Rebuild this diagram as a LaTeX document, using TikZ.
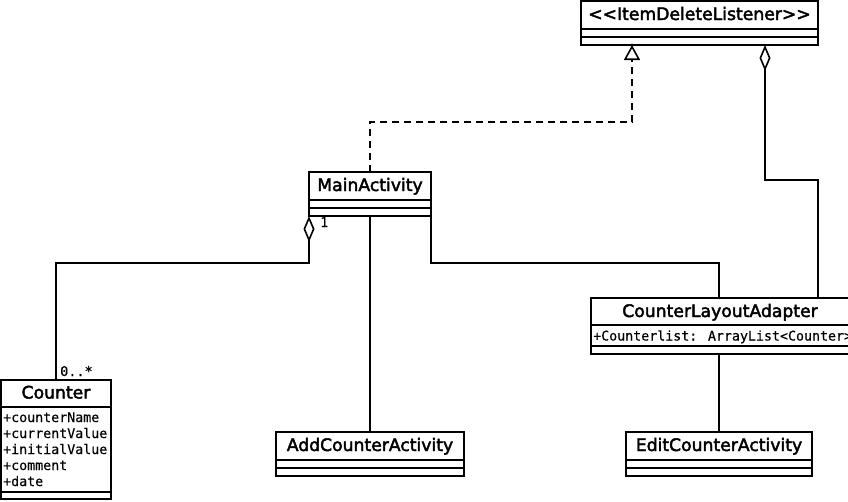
\documentclass[tikz,border=0pt]{standalone}
\usepackage{fontspec}
\setmainfont{DejaVu Sans}[Ligatures=TeXOff]
\newfontfamily\titlef{DejaVu Sans}[Ligatures=TeXOff, FakeBold=2.5]
\newfontfamily\monof{DejaVu Sans Mono}[Ligatures=TeXOff, FakeBold=0.4]
\usetikzlibrary{arrows.meta,calc}
\begin{document}
\begin{tikzpicture}[x=1pt,y=-1pt,
  cls/.style={draw, line width=1.8pt, rectangle, inner sep=0pt, outer sep=0pt, anchor=north west},
  sepline/.style={line width=1.8pt},
  ttl/.style={font=\fontsize{17.2}{18}\titlef, anchor=base, inner sep=0pt},
  attr/.style={font=\fontsize{13.3}{14}\monof, anchor=base west, inner sep=0pt},
  mult/.style={font=\fontsize{13.5}{14}\monof, inner sep=0pt},
  conn/.style={line width=1.8pt},
  realize/.style={conn, dash pattern=on 7pt off 5pt, -{Triangle[open,length=15pt,width=16pt,line width=1.6pt]}},
  aggr/.style={conn, {Diamond[open,length=26pt,width=11pt,line width=1.6pt]}-},
  ]
\useasboundingbox[fill=white] (0,0) rectangle (848,501);

% classes
\node[cls, minimum width=237pt, minimum height=44pt] (idl) at (581,1) {};
\draw[sepline] ($(idl.north west)+(0,28)$) -- ++(237,0);
\draw[sepline] ($(idl.north west)+(0,36)$) -- ++(237,0);
\node[ttl] at ($(idl.north)+(0,19)$) {<<ItemDeleteListener>>};

\node[cls, minimum width=122pt, minimum height=44pt] (ma) at (309,172) {};
\draw[sepline] ($(ma.north west)+(0,28)$) -- ++(122,0);
\draw[sepline] ($(ma.north west)+(0,36)$) -- ++(122,0);
\node[ttl] at ($(ma.north)+(0,19)$) {MainActivity};

\node[cls, minimum width=110pt, minimum height=119pt] (counter) at (1,380) {};
\draw[sepline] ($(counter.north west)+(0,27)$) -- ++(110,0);
\draw[sepline] ($(counter.north west)+(0,112)$) -- ++(110,0);
\node[ttl] at ($(counter.north)+(0,18.5)$) {Counter};
\node[attr] at (3,422) {+counterName};
\node[attr] at (3,438) {+currentValue};
\node[attr] at (3,454) {+initialValue};
\node[attr] at (3,470) {+comment};
\node[attr] at (3,486) {+date};

\node[cls, minimum width=258pt, minimum height=56pt] (cla) at (591,298) {};
\draw[sepline] ($(cla.north west)+(0,27)$) -- ++(258,0);
\draw[sepline] ($(cla.north west)+(0,48)$) -- ++(258,0);
\node[ttl] at ($(cla.north)+(0,19)$) {CounterLayoutAdapter};
\node[attr] at (593,340.5) {+Counterlist: ArrayList<Counter>};

\node[cls, minimum width=188pt, minimum height=44pt] (add) at (276,432) {};
\draw[sepline] ($(add.north west)+(0,28)$) -- ++(188,0);
\draw[sepline] ($(add.north west)+(0,36)$) -- ++(188,0);
\node[ttl] at ($(add.north)+(0,19)$) {AddCounterActivity};

\node[cls, minimum width=186pt, minimum height=44pt] (edit) at (626,432) {};
\draw[sepline] ($(edit.north west)+(0,28)$) -- ++(186,0);
\draw[sepline] ($(edit.north west)+(0,36)$) -- ++(186,0);
\node[ttl] at ($(edit.north)+(0,19)$) {EditCounterActivity};

% helper coordinates
\coordinate (r1) at (632,122);
\coordinate (g1) at (765,0);
\coordinate (g2) at (818,180);
\coordinate (h1) at (0,263);
\coordinate (v1) at (719,0);

% connectors
\draw[realize] (ma.north) |- (r1) -- (r1 |- idl.south);
\draw[aggr] (idl.south -| g1) |- (g2) -- (g2 |- cla.north);
\draw[aggr] (ma.south west) |- (counter.north |- h1) -- (counter.north);
\draw[conn] (ma.south) -- (add.north);
\draw[conn] (ma.south east) |- (v1 |- h1) -- (v1 |- cla.north);
\draw[conn] (v1 |- cla.south) -- (v1 |- edit.north);

% multiplicities
\node[mult, anchor=base west] (m1) at (320,227) {1};
\node[mult, anchor=base west] (m2) at (60,376) {0..*};
\end{tikzpicture}
\end{document}
